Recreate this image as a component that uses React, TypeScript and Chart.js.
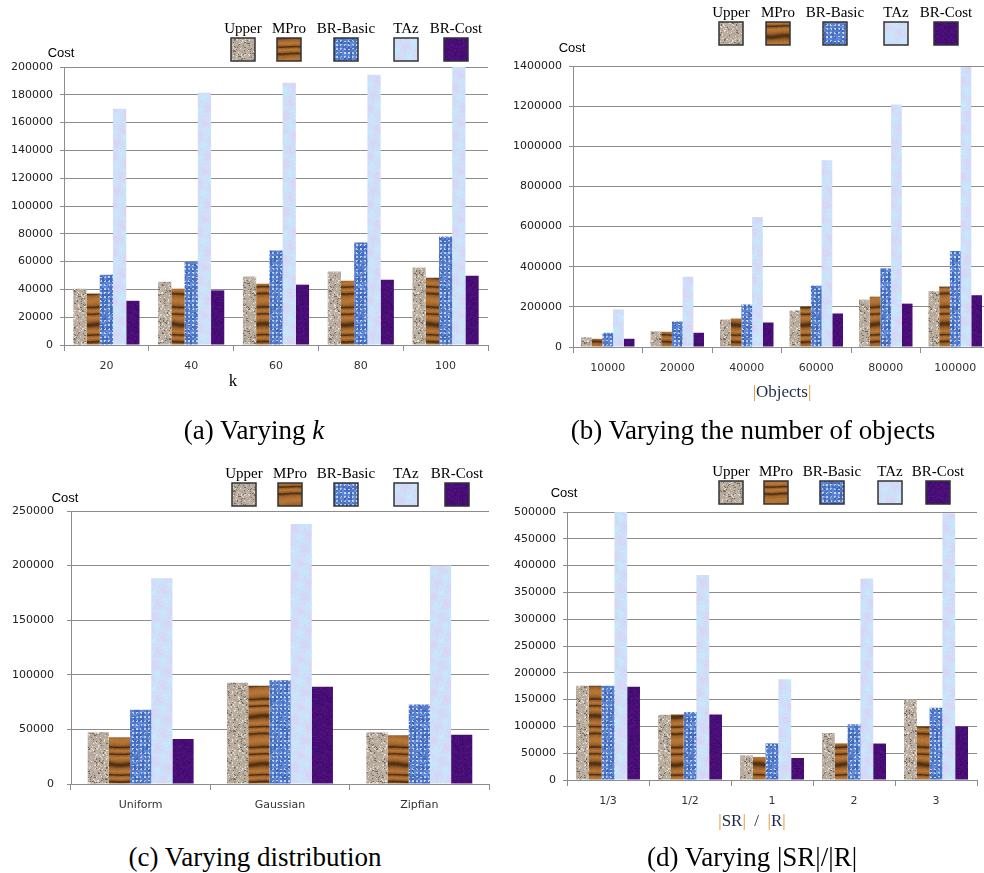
import React, { useEffect, useRef } from "react";
import { Chart, registerables } from "chart.js";
Chart.register(...registerables);

// ---------- data ----------
const SERIES = ["Upper", "MPro", "BR-Basic", "TAz", "BR-Cost"];

const kLabels = ["20", "40", "60", "80", "100"];
const kUpper = [40500, 45500, 49200, 52800, 55700];
const kMPro = [37000, 40500, 44100, 46300, 48400];
const kBRBasic = [50600, 59800, 68000, 73700, 78000];
const kTAz = [169900, 181400, 188700, 194500, 200000];
const kBRCost = [31800, 39300, 43400, 47000, 49900];

const objLabels = ["10000", "20000", "40000", "60000", "80000", "100000"];
const objUpper = [48000, 78000, 137000, 182000, 236000, 278000];
const objMPro = [41000, 76000, 142000, 202000, 251000, 301000];
const objBRBasic = [71000, 127000, 212000, 306000, 392000, 478000];
const objTAz = [187000, 350000, 648000, 930000, 1208000, 1395000];
const objBRCost = [41000, 71000, 122000, 167000, 216000, 258000];

const distLabels = ["Uniform", "Gaussian", "Zipfian"];
const distUpper = [47400, 92700, 47400];
const distMPro = [42800, 89900, 44600];
const distBRBasic = [67900, 95100, 72800];
const distTAz = [188400, 238200, 200000];
const distBRCost = [41300, 89000, 45000];

const ratioLabels = ["1/3", "1/2", "1", "2", "3"];
const ratioUpper = [175800, 121700, 46000, 87600, 150000];
const ratioMPro = [176000, 122000, 43000, 68300, 100000];
const ratioBRBasic = [176000, 127000, 68300, 104000, 135000];
const ratioTAz = [500000, 382600, 188000, 375800, 497500];
const ratioBRCost = [174000, 122000, 41000, 68000, 100000];

// ---------- styling ----------
const GRID = "#8c8c8c";
Chart.defaults.font.family = '"DejaVu Sans", sans-serif';
Chart.defaults.font.size = 11;

function frac(v: number) {
  return v - Math.floor(v);
}
function hash(x: number, y: number, s: number) {
  return frac(Math.sin(x * 12.9898 + y * 78.233 + s * 37.719) * 43758.5453);
}

function makeTexture(kind: number): HTMLCanvasElement {
  const W = 32, H = 48;
  const c = document.createElement("canvas");
  c.width = W;
  c.height = H;
  const g = c.getContext("2d")!;
  const img = g.createImageData(W, H);
  for (let y = 0; y < H; y++) {
    for (let x = 0; x < W; x++) {
      const n = hash(x, y, kind + 1);
      const m = hash(x >> 1, y >> 1, kind + 11);
      let r = 0, gg = 0, b = 0;
      if (kind === 0) {
        const v = (n + m) / 2;
        if (v < 0.22) { r = 120; gg = 108; b = 96; }
        else if (v > 0.8) { r = 228; gg = 222; b = 212; }
        else { const d = (v - 0.5) * 50; r = 184 + d; gg = 172 + d; b = 158 + d; }
      } else if (kind === 1) {
        const t = Math.sin(2 * Math.PI * (y / H) * 5 + 1.3 * Math.sin(2 * Math.PI * (y / H) * 2) + 0.25 * Math.sin(2 * Math.PI * x / W));
        const dark = Math.pow((1 - t) / 2, 5);
        const lite = Math.pow((1 + t) / 2, 3);
        r = 160 - 80 * dark + 22 * lite + (n - 0.5) * 14;
        gg = 100 - 52 * dark + 18 * lite + (n - 0.5) * 10;
        b = 44 - 26 * dark + 10 * lite + (n - 0.5) * 8;
      } else if (kind === 2) {
        const lite = (x % 4) < 2 && (y % 4) < 2 && n > 0.25;
        if (lite) { r = 150 + n * 60; gg = 178 + n * 50; b = 228 + n * 25; }
        else { r = 62 + m * 40; gg = 100 + m * 40; b = 180 + m * 40; }
      } else if (kind === 3) {
        const u = Math.sin(2 * Math.PI * (x / W * 2 + y / H)) + Math.sin(2 * Math.PI * (y / H * 3 - x / W));
        const w = (u + 2) / 4;
        r = 198 + 18 * w + (n - 0.5) * 8;
        gg = 232 - 20 * w + (n - 0.5) * 8;
        b = 250 - 4 * w;
      } else {
        r = 72 + (n - 0.5) * 20 + (m - 0.5) * 14;
        gg = 14 + (n - 0.5) * 8;
        b = 118 + (n - 0.5) * 24 + (m - 0.5) * 14;
      }
      const i = (y * W + x) * 4;
      img.data[i] = Math.max(0, Math.min(255, r));
      img.data[i + 1] = Math.max(0, Math.min(255, gg));
      img.data[i + 2] = Math.max(0, Math.min(255, b));
      img.data[i + 3] = 255;
    }
  }
  g.putImageData(img, 0, 0);
  return c;
}

const legendPlugin = {
  id: "customLegend",
  afterDraw(chart: any, _args: any, opts: any) {
    const ctx = chart.ctx as CanvasRenderingContext2D;
    opts.xs.forEach((cx: number, i: number) => {
      const ds = chart.data.datasets[i];
      ctx.save();
      ctx.fillStyle = ds.backgroundColor;
      ctx.fillRect(cx - 12, opts.y, 24, 23);
      ctx.strokeStyle = "#333";
      ctx.lineWidth = 1.5;
      ctx.strokeRect(cx - 12, opts.y, 24, 23);
      ctx.font = '15px "Liberation Serif", serif';
      ctx.fillStyle = "#000";
      ctx.textAlign = "center";
      ctx.textBaseline = "middle";
      ctx.fillText(ds.label, cx, opts.y - 9);
      ctx.restore();
    });
  },
};

type Rect = { left: number; top: number; w: number; h: number };
type Area = { l: number; t: number; r: number; b: number };
type PanelDef = {
  labels: string[];
  series: number[][];
  yMax: number;
  step: number;
  canvas: Rect;
  area: Area;
  legendXs: number[];
  legendY: number;
  labelGap: number;
  catPct: number;
};

const panels: PanelDef[] = [
  {
    labels: kLabels,
    series: [kUpper, kMPro, kBRBasic, kTAz, kBRCost],
    yMax: 200000, step: 20000,
    canvas: { left: 0, top: 0, w: 490, h: 400 },
    area: { l: 64, t: 67, r: 488, b: 345 },
    legendXs: [243, 289, 346, 406, 456], legendY: 38, labelGap: 11, catPct: 0.78,
  },
  {
    labels: objLabels,
    series: [objUpper, objMPro, objBRBasic, objTAz, objBRCost],
    yMax: 1400000, step: 200000,
    canvas: { left: 490, top: 0, w: 510, h: 400 },
    area: { l: 573, t: 66, r: 990, b: 347 },
    legendXs: [731, 778, 835, 896, 946], legendY: 22, labelGap: 11, catPct: 0.77,
  },
  {
    labels: distLabels,
    series: [distUpper, distMPro, distBRBasic, distTAz, distBRCost],
    yMax: 250000, step: 50000,
    canvas: { left: 0, top: 440, w: 490, h: 400 },
    area: { l: 71, t: 511, r: 489, b: 784 },
    legendXs: [244, 290, 346, 406, 457], legendY: 483, labelGap: 17, catPct: 0.76,
  },
  {
    labels: ratioLabels,
    series: [ratioUpper, ratioMPro, ratioBRBasic, ratioTAz, ratioBRCost],
    yMax: 500000, step: 50000,
    canvas: { left: 490, top: 440, w: 494, h: 400 },
    area: { l: 567, t: 512, r: 977, b: 780 },
    legendXs: [731, 776, 832, 890, 938], legendY: 481, labelGap: 11, catPct: 0.78,
  },
];

function Panel({ def }: { def: PanelDef }) {
  const ref = useRef<HTMLCanvasElement>(null);
  useEffect(() => {
    const cv = ref.current!;
    const ctx = cv.getContext("2d")!;
    const pats = [0, 1, 2, 3, 4].map((k) => ctx.createPattern(makeTexture(k), "repeat")!);
    const c = def.canvas;
    const a = def.area;
    const chart = new Chart(cv, {
      type: "bar",
      data: {
        labels: def.labels,
        datasets: SERIES.map((name, i) => ({
          label: name,
          data: def.series[i],
          backgroundColor: pats[i] as any,
          borderWidth: 0,
          categoryPercentage: def.catPct,
          barPercentage: 1,
        })),
      },
      options: {
        responsive: false,
        animation: false,
        events: [],
        layout: { padding: { left: 0, top: a.t - c.top, right: c.left + c.w - a.r, bottom: 0 } },
        plugins: {
          legend: { display: false },
          tooltip: { enabled: false },
          customLegend: { xs: def.legendXs.map((x) => x - c.left), y: def.legendY - c.top },
        } as any,
        scales: {
          x: {
            grid: { drawOnChartArea: false, drawTicks: true, tickLength: 6, color: GRID, offset: true },
            border: { color: GRID },
            ticks: { padding: 9, color: "#333", maxRotation: 0, autoSkip: false },
            afterFit: (s: any) => { s.height = c.top + c.h - a.b; },
          },
          y: {
            min: 0,
            max: def.yMax,
            grid: { color: GRID, tickLength: 4 },
            border: { color: GRID },
            ticks: { stepSize: def.step, padding: def.labelGap - 4, color: "#222", callback: (v: any) => String(v) },
            afterFit: (s: any) => { s.width = a.l - c.left; },
          },
        },
      },
      plugins: [legendPlugin as any],
    });
    return () => chart.destroy();
  }, []);
  const c = def.canvas;
  return (
    <canvas
      ref={ref}
      width={c.w}
      height={c.h}
      style={{ position: "absolute", left: c.left, top: c.top, width: c.w, height: c.h }}
    />
  );
}

function Txt({ x, y, size, family, children, color }: any) {
  return (
    <div
      style={{
        position: "absolute",
        left: x,
        top: y,
        transform: "translate(-50%, -50%)",
        whiteSpace: "pre",
        lineHeight: 1,
        fontSize: size,
        fontFamily: family,
        color: color || "#000",
      }}
    >
      {children}
    </div>
  );
}

const SERIF = '"Liberation Serif", serif';
const SANS = '"Liberation Sans", sans-serif';
const OR = { color: "#e8902a" };

export default function App() {
  return (
    <div
      style={{
        position: "fixed",
        left: 0,
        top: 0,
        width: 984,
        height: 873,
        overflow: "hidden",
        background: "#fff",
      }}
    >
      {panels.map((p, i) => (
        <Panel key={i} def={p} />
      ))}
      <Txt x={61} y={52} size={13} family={SANS}>Cost</Txt>
      <Txt x={572} y={47} size={13} family={SANS}>Cost</Txt>
      <Txt x={65} y={497} size={13} family={SANS}>Cost</Txt>
      <Txt x={564} y={492} size={13} family={SANS}>Cost</Txt>

      <Txt x={233} y={380} size={17} family={SERIF}>k</Txt>
      <Txt x={782} y={391} size={17} family={SERIF} color="#1c2a4a">
        <span style={OR}>|</span>Objects<span style={OR}>|</span>
      </Txt>
      <Txt x={752} y={820} size={17} family={SERIF} color="#1c2a4a">
        <span style={OR}>|</span>SR<span style={OR}>|</span>{"  /  "}<span style={OR}>|</span>R<span style={OR}>|</span>
      </Txt>

      <Txt x={254} y={430} size={27} family={SERIF}>(a) Varying <i>k</i></Txt>
      <Txt x={753} y={430} size={27} family={SERIF}>(b) Varying the number of objects</Txt>
      <Txt x={255} y={857} size={27} family={SERIF}>(c) Varying distribution</Txt>
      <Txt x={752} y={857} size={27} family={SERIF}>(d) Varying |SR|/|R|</Txt>
    </div>
  );
}
